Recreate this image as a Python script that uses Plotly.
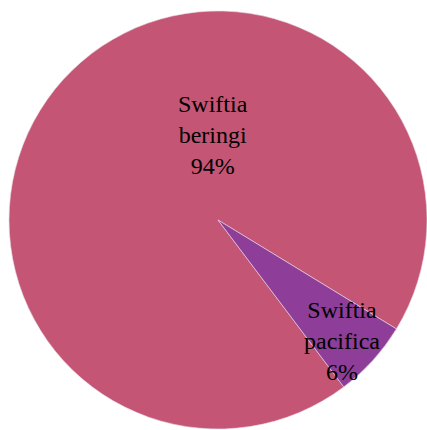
import plotly.graph_objects as go

# Species share of colonies
species = ["Swiftia beringi", "Swiftia pacifica"]
shares = [94, 6]
slice_colors = ["#C55574", "#8E3D98"]

total = sum(shares)
labels_text = [
    "<br>".join(name.split(" ")) + "<br>" + f"{round(v / total * 100)}%"
    for name, v in zip(species, shares)
]

fig = go.Figure(
    go.Pie(
        labels=species,
        values=shares,
        sort=False,
        direction="clockwise",
        rotation=143,
        marker=dict(colors=slice_colors, line=dict(color="#E8D8E8", width=0.6)),
        textinfo="none",
        hoverinfo="label+percent",
        showlegend=False,
        domain=dict(x=[9 / 427, 427 / 427], y=[0, 420 / 430]),
    )
)

label_spots = [(213 / 427, 1 - 135 / 430), (342 / 427, 1 - 341 / 430)]
for txt, (ax, ay) in zip(labels_text, label_spots):
    fig.add_annotation(
        x=ax, y=ay, xref="paper", yref="paper",
        text=txt, showarrow=False,
        xanchor="center", yanchor="middle",
        font=dict(family="Liberation Serif", size=24, color="black"),
    )

fig.update_layout(
    width=427, height=430,
    margin=dict(l=0, r=0, t=0, b=0),
    paper_bgcolor="white",
    plot_bgcolor="white",
)

fig.write_html("out.html")
